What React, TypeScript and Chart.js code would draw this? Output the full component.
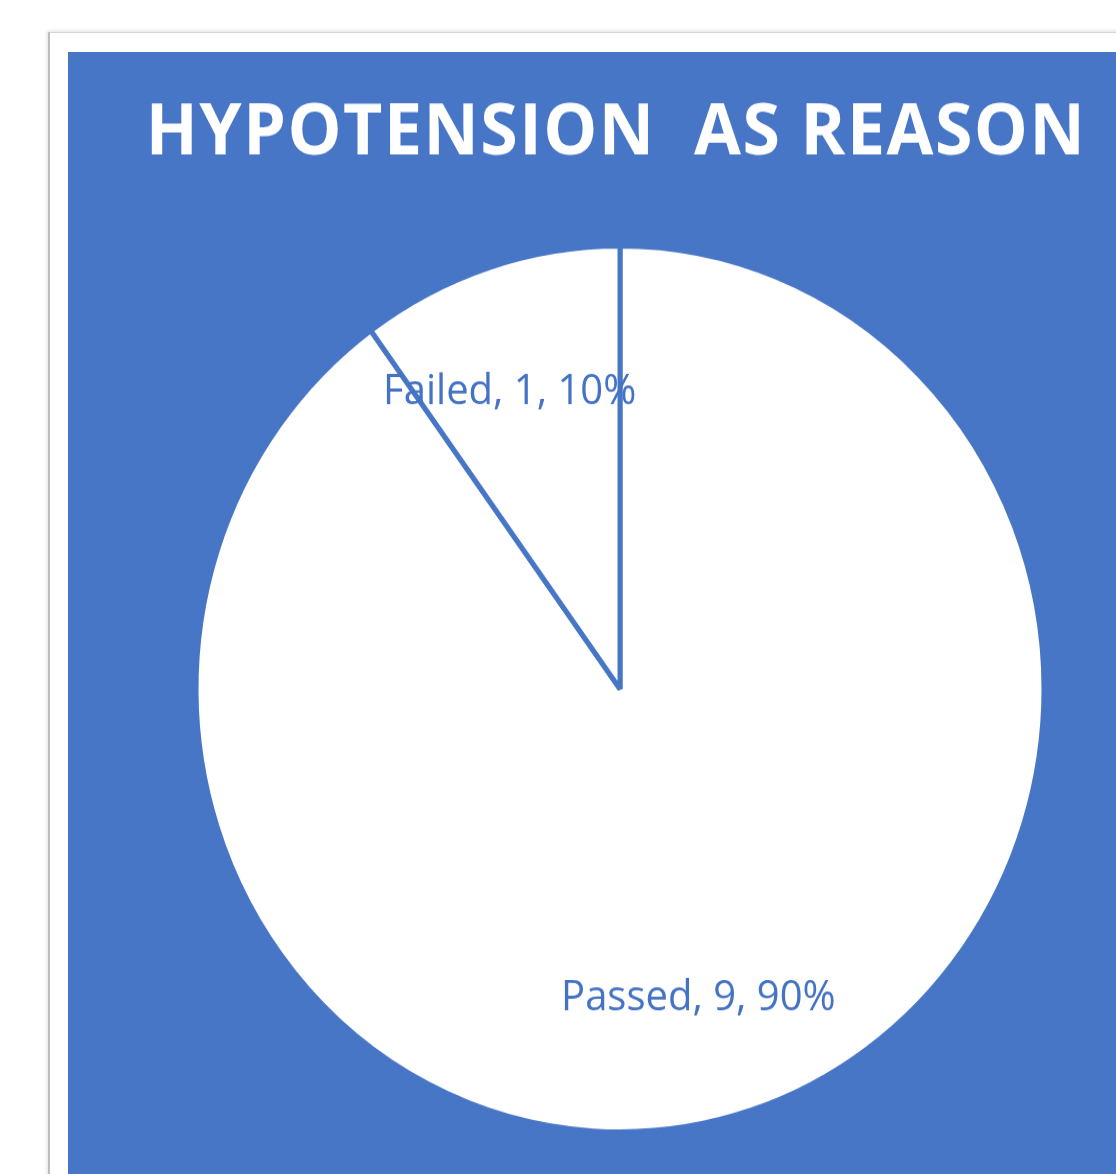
import React, { useEffect, useRef } from "react";
import { Chart, registerables } from "chart.js";

Chart.register(...registerables);

const categories = ["Passed", "Failed"];
const values = [9, 1];
const chartTitle = "HYPOTENSION  AS REASON";

const BLUE = "#4876C6";
const LABEL_BLUE = "#4472C4";
const CANVAS_W = 1048;
const CANVAS_H = 1074;
const SCALE_Y = 1.045;

export default function App() {
  const ref = useRef<HTMLCanvasElement>(null);

  useEffect(() => {
    if (!ref.current) return;
    const total = values.reduce((a, b) => a + b, 0);

    const sliceLabels = {
      id: "sliceLabels",
      afterDatasetsDraw(chart: any) {
        const ctx = chart.ctx;
        const meta = chart.getDatasetMeta(0);
        ctx.save();
        ctx.font = "500 40px 'Open Sans'";
        ctx.fillStyle = LABEL_BLUE;
        ctx.textAlign = "center";
        ctx.textBaseline = "middle";
        meta.data.forEach((arc: any, i: number) => {
          const p = arc.getProps(["x", "y", "startAngle", "endAngle", "outerRadius"], true);
          const mid = (p.startAngle + p.endAngle) / 2;
          const r = p.outerRadius * 0.72;
          const pct = Math.round((values[i] / total) * 100);
          ctx.fillText(
            `${categories[i]}, ${values[i]}, ${pct}%`,
            p.x + r * Math.cos(mid) - 16,
            p.y + r * Math.sin(mid) + 6
          );
        });
        ctx.restore();
      },
    };

    const titleText = {
      id: "titleText",
      afterDraw(chart: any) {
        const ctx = chart.ctx;
        ctx.save();
        ctx.font = "bold 68px 'Open Sans'";
        (ctx as any).letterSpacing = "1.5px";
        ctx.fillStyle = "#ffffff";
        ctx.textAlign = "center";
        ctx.textBaseline = "alphabetic";
        ctx.fillText(chartTitle, 548, 97.5);
        ctx.restore();
      },
    };

    const chart = new Chart(ref.current, {
      type: "pie",
      data: {
        labels: categories,
        datasets: [
          {
            data: values,
            backgroundColor: ["#ffffff", "#ffffff"],
            borderColor: BLUE,
            borderWidth: 5,
          },
        ],
      },
      options: {
        animation: false,
        responsive: false,
        maintainAspectRatio: false,
        radius: 424,
        layout: { padding: { left: 130, right: 74, top: 188, bottom: 43 } },
        plugins: {
          legend: { display: false },
          tooltip: { enabled: false },
          title: { display: false },
        },
      } as any,
      plugins: [sliceLabels, titleText],
    });
    return () => chart.destroy();
  }, []);

  return (
    <div
      style={{
        position: "absolute",
        left: 0,
        top: 0,
        width: 1116,
        height: 1174,
        overflow: "hidden",
        background: "#ffffff",
      }}
    >
      <div
        style={{
          position: "absolute",
          left: 48,
          top: 32,
          width: 1200,
          height: 1300,
          borderLeft: "2px solid #bdbdbd",
          borderTop: "1px solid #d4d4d4",
          boxShadow: "-1px -1px 4px rgba(0,0,0,0.12)",
          background: "#ffffff",
        }}
      />
      <div
        style={{
          position: "absolute",
          left: 68,
          top: 52,
          width: 1100,
          height: 1200,
          background: BLUE,
        }}
      />
      <div
        style={{
          position: "absolute",
          left: 68,
          top: 52,
          width: CANVAS_W,
          height: CANVAS_H,
          transform: `scaleY(${SCALE_Y})`,
          transformOrigin: "0 0",
        }}
      >
        <canvas ref={ref} width={CANVAS_W} height={CANVAS_H} style={{ display: "block" }} />
      </div>
    </div>
  );
}
